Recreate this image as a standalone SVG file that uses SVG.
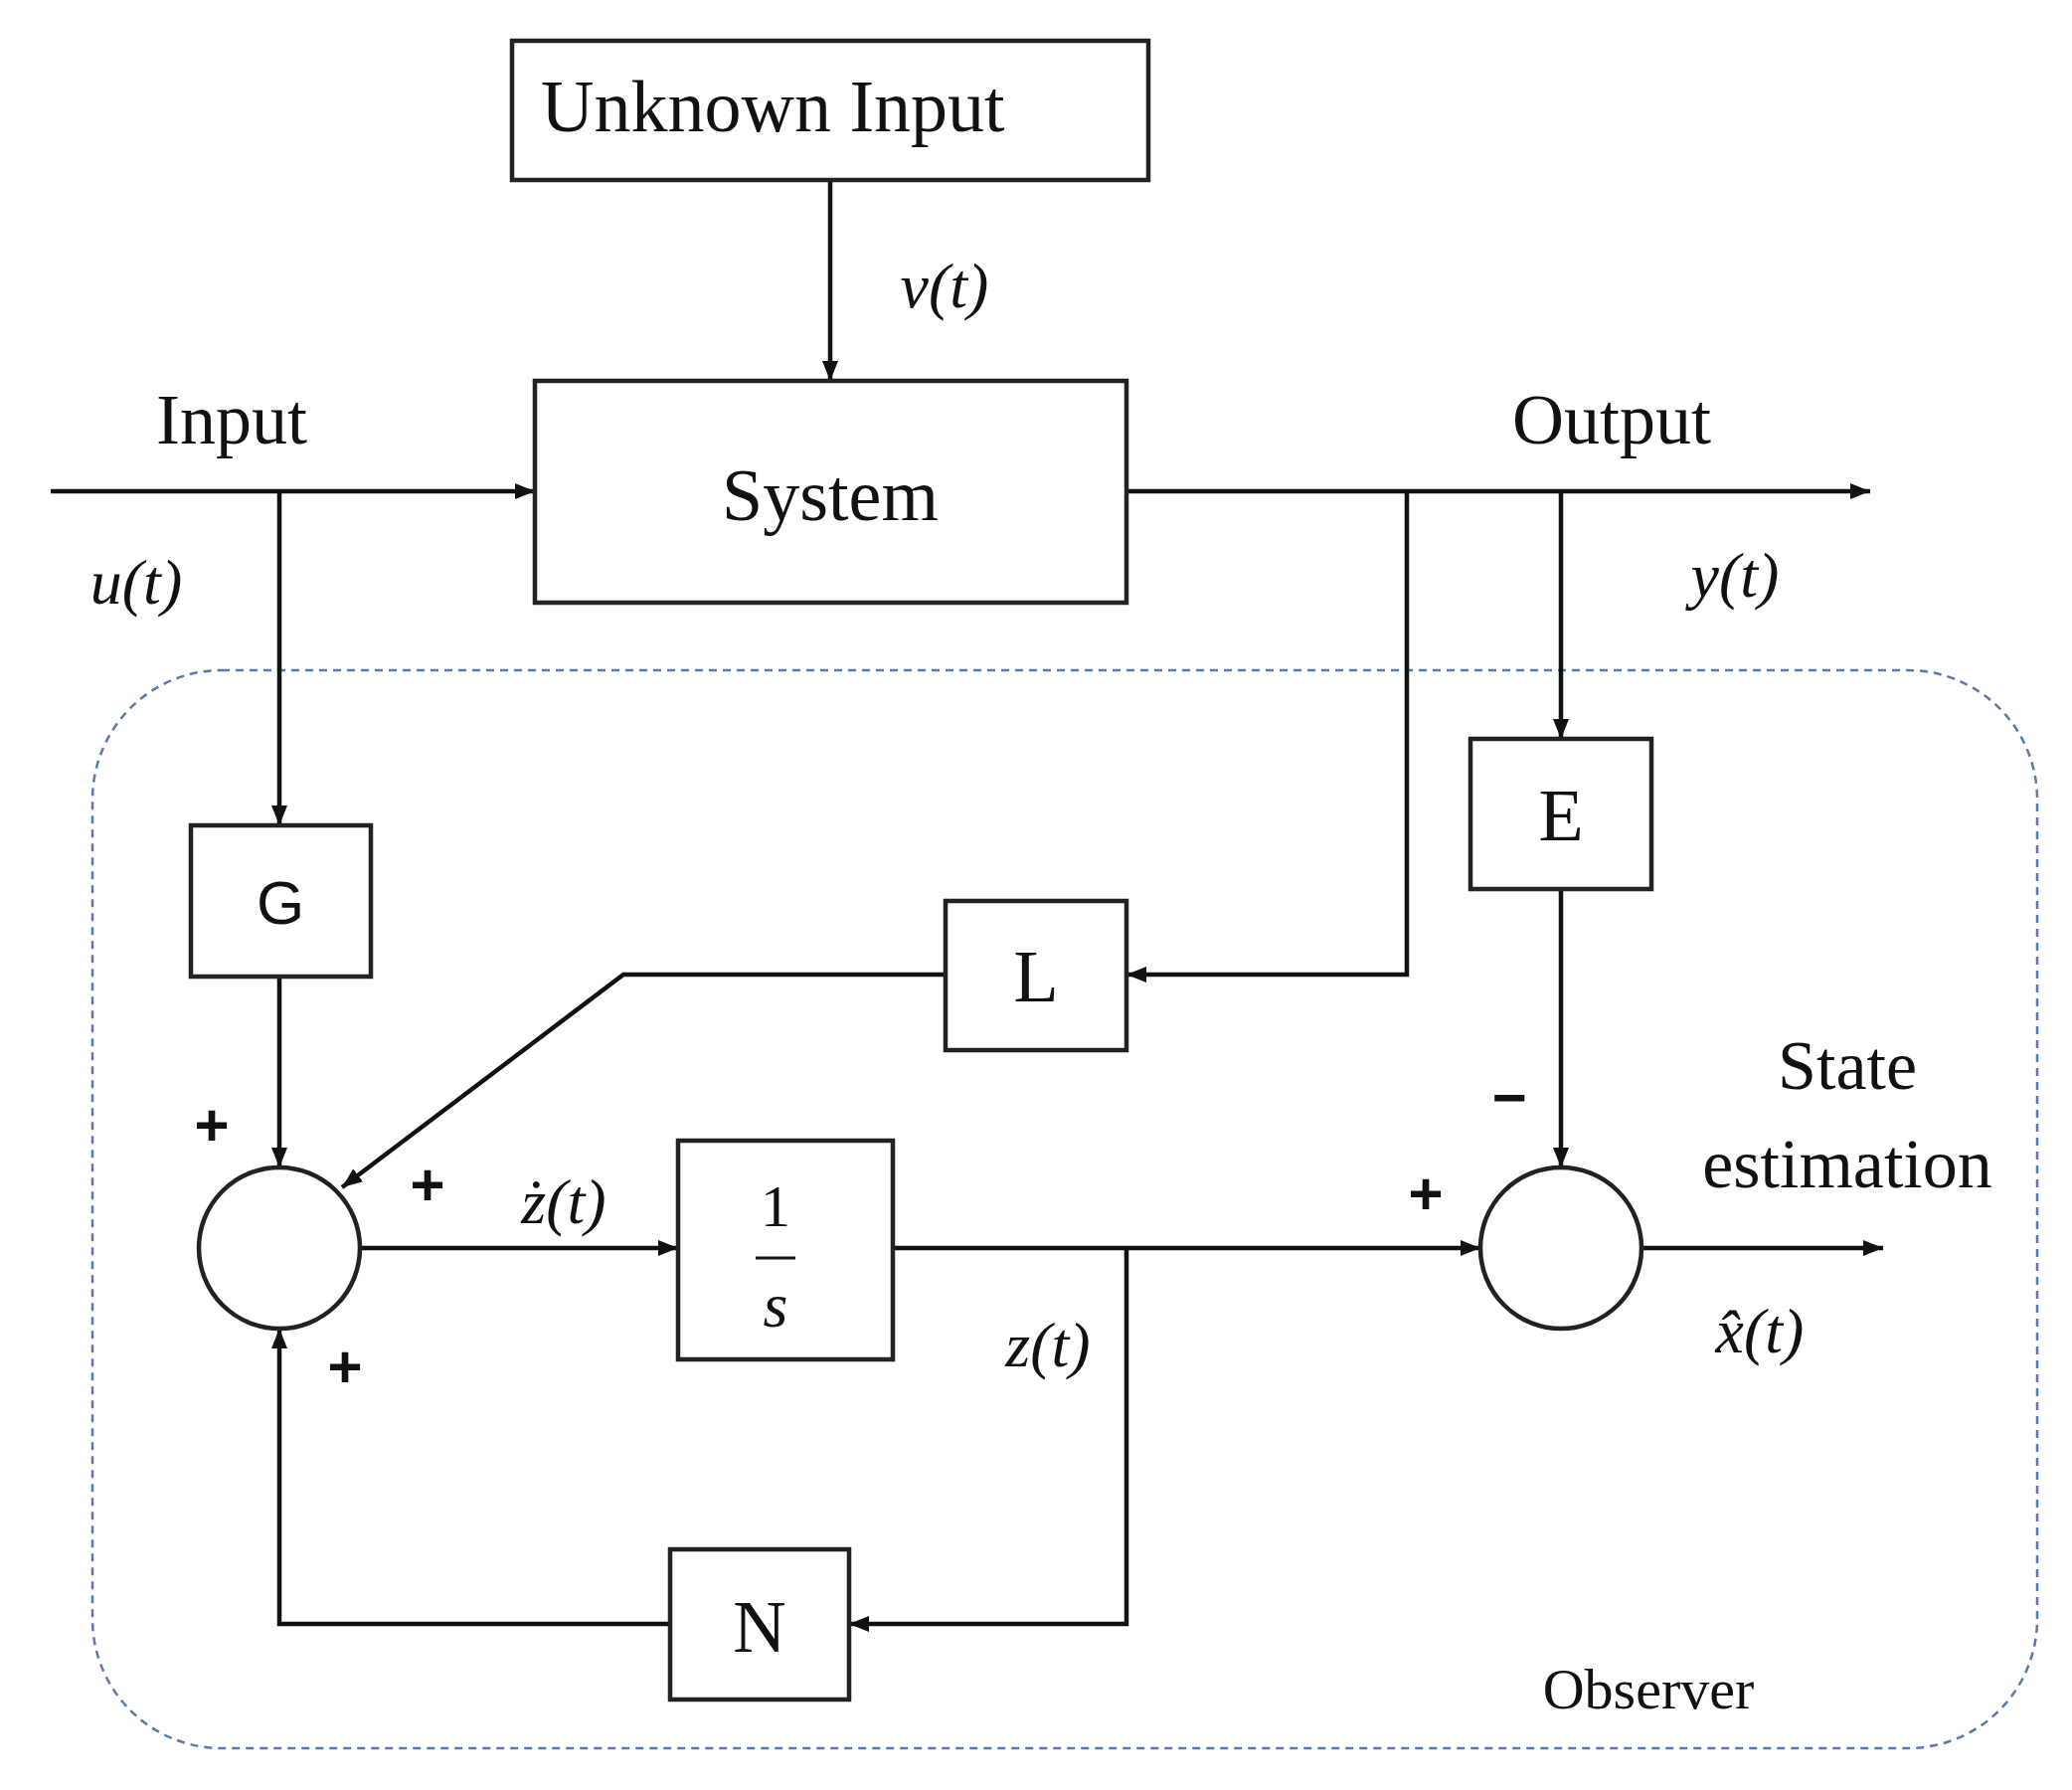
<svg xmlns="http://www.w3.org/2000/svg" width="2084" height="1800" viewBox="0 0 2084 1800">
<style>
.b{fill:#fff;stroke:#222;stroke-width:4.5}
.l{fill:none;stroke:#111;stroke-width:4.5}
.t{font-family:"Liberation Serif",serif;fill:#111;text-anchor:middle;dominant-baseline:central}
.m{font-family:"Liberation Serif",serif;font-style:italic;fill:#111;text-anchor:middle;dominant-baseline:central;font-size:64px}
.s{font-family:"Liberation Sans",sans-serif;font-weight:bold;fill:#111;text-anchor:middle;dominant-baseline:central;font-size:60px}
</style>
<defs><marker id="a" viewBox="0 0 10 10" refX="10" refY="5" markerWidth="4.5" markerHeight="4.5" orient="auto"><path d="M0,1 L10,5 L0,9 z" fill="#111"/></marker></defs>
<rect x="93" y="674" width="1956" height="1084" rx="130" fill="none" stroke="#5a78b0" stroke-width="2.5" stroke-dasharray="8,6"/>
<g id="connectors">
<path class="l" d="M835,181 V383" marker-end="url(#a)"/>
<path class="l" d="M51,494 H538" marker-end="url(#a)"/>
<path class="l" d="M1133,494 H1881" marker-end="url(#a)"/>
<path class="l" d="M281,494 V830" marker-end="url(#a)"/>
<path class="l" d="M1415,494 V980 H1133" marker-end="url(#a)"/>
<path class="l" d="M1570,494 V743" marker-end="url(#a)"/>
<path class="l" d="M951,980 H627 L344,1194" marker-end="url(#a)"/>
<path class="l" d="M281,982 V1174" marker-end="url(#a)"/>
<path class="l" d="M1570,894 V1174" marker-end="url(#a)"/>
<path class="l" d="M363,1255 H682" marker-end="url(#a)"/>
<path class="l" d="M898,1255 H1489" marker-end="url(#a)"/>
<path class="l" d="M1651,1255 H1894" marker-end="url(#a)"/>
<path class="l" d="M1133,1255 V1633 H854" marker-end="url(#a)"/>
<path class="l" d="M674,1633 H281 V1336" marker-end="url(#a)"/>
</g>
<g id="unknown"><rect class="b" x="515" y="41" width="640" height="140"/><text class="t" x="544" y="107" font-size="74" style="text-anchor:start">Unknown Input</text></g>
<g id="system"><rect class="b" x="538" y="383" width="595" height="223"/><text class="t" x="835" y="498" font-size="74">System</text></g>
<g id="G"><rect class="b" x="192" y="830" width="181" height="152"/><text class="s" x="282" y="907" style="font-weight:normal;font-size:62px">G</text></g>
<g id="L"><rect class="b" x="951" y="906" width="182" height="150"/><text class="t" x="1042" y="982" font-size="74">L</text></g>
<g id="E"><rect class="b" x="1479" y="743" width="182" height="151"/><text class="t" x="1570" y="820" font-size="74">E</text></g>
<g id="int"><rect class="b" x="682" y="1147" width="216" height="220"/><text class="t" x="780" y="1213" font-size="60">1</text><line x1="760" y1="1265" x2="800" y2="1265" stroke="#111" stroke-width="3"/><text class="m" x="780" y="1312">s</text></g>
<g id="N"><rect class="b" x="674" y="1558" width="180" height="151"/><text class="t" x="764" y="1636" font-size="74">N</text></g>
<g id="sum1"><circle class="b" cx="281" cy="1255" r="81"/></g>
<g id="sum2"><circle class="b" cx="1570" cy="1255" r="81"/></g>
<g id="labels">
<text class="m" x="950" y="287">v(t)</text>
<text class="t" x="233" y="422" font-size="72">Input</text>
<text class="m" x="137" y="585">u(t)</text>
<text class="t" x="1621" y="422" font-size="72">Output</text>
<text class="m" x="1745" y="578">y(t)</text>
<text class="s" x="213" y="1131">+</text>
<text class="s" x="430" y="1191">+</text>
<text class="m" x="567" y="1208">ż(t)</text>
<text class="s" x="347" y="1374">+</text>
<text class="m" x="1054" y="1352">z(t)</text>
<text class="s" x="1434" y="1200">+</text>
<text class="s" x="1518" y="1103">−</text>
<text class="t" x="1858" y="1071" font-size="70">State</text>
<text class="t" x="1858" y="1170" font-size="70">estimation</text>
<text class="m" x="1770" y="1338">x̂(t)</text>
<text class="t" x="1658" y="1698" font-size="58">Observer</text>
</g>
</svg>
